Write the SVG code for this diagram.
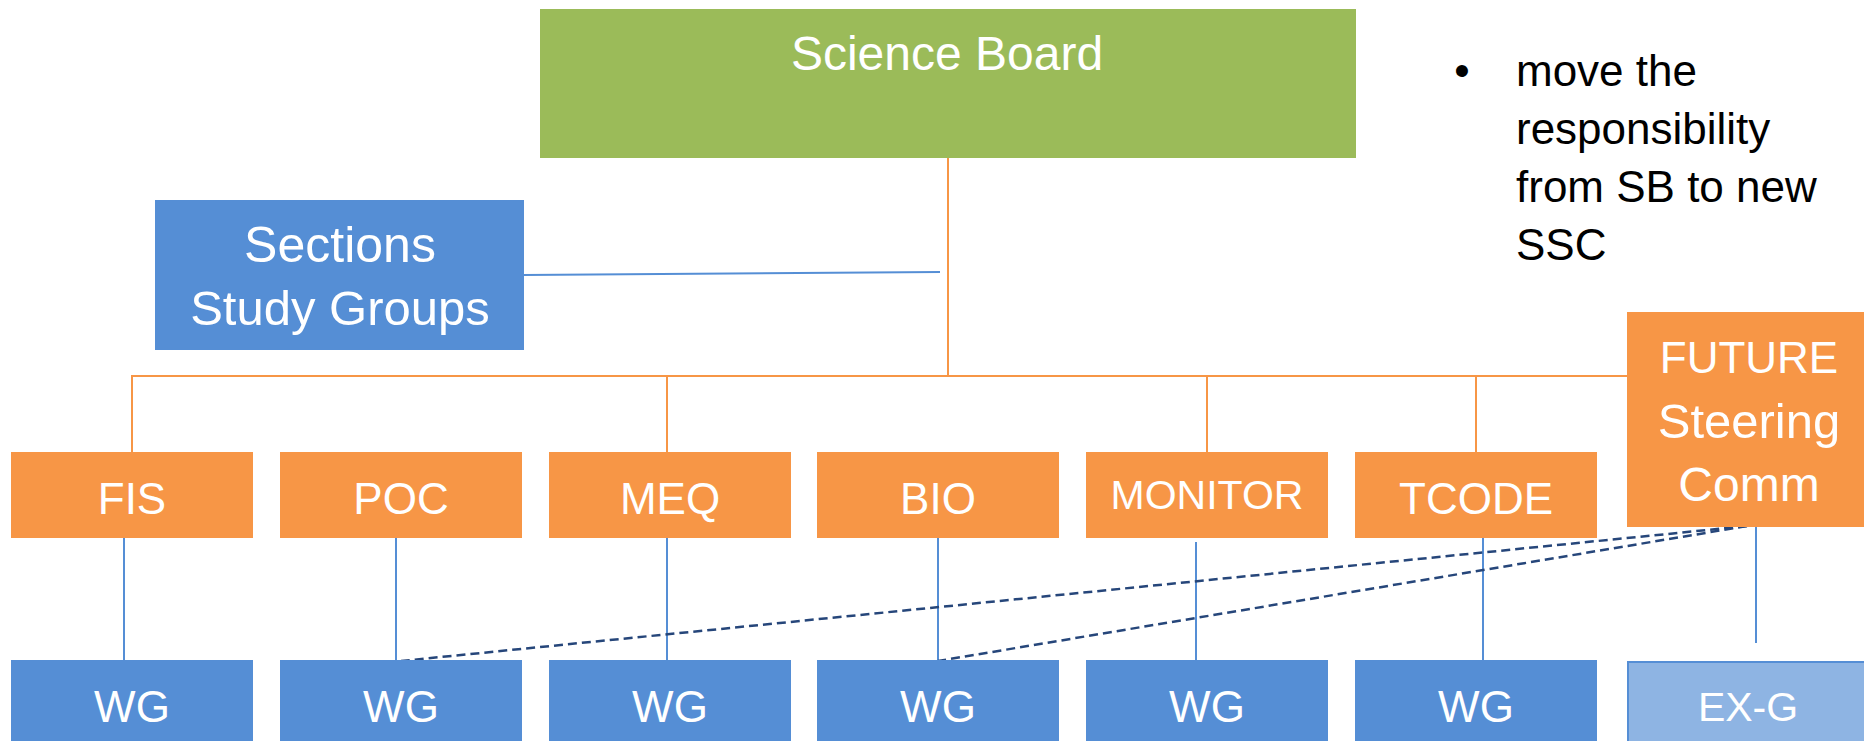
<svg xmlns="http://www.w3.org/2000/svg" width="1864" height="741" viewBox="0 0 1864 741">
<style>
.t{font-family:"Liberation Sans",Arial,sans-serif;fill:#fff;text-anchor:middle}
.cap{font-size:44px}
.org{fill:#F79646}
.blu{fill:#558ED5}
.ol{stroke:#F79646;stroke-width:2;fill:none}
.bl{stroke:#558ED5;stroke-width:2;fill:none}
.dl{stroke:#26467A;stroke-width:2.5;stroke-dasharray:9 5;fill:none}
</style>
<rect width="1864" height="741" fill="#fff"/>
<g id="connectors">
<polyline class="ol" points="948,157 948,376"/>
<polyline class="ol" points="132,452 132,376 1627,376"/>
<line class="ol" x1="667" y1="376" x2="667" y2="452"/>
<line class="ol" x1="1207" y1="376" x2="1207" y2="452"/>
<line class="ol" x1="1476" y1="376" x2="1476" y2="452"/>
<line class="bl" x1="524" y1="275" x2="940" y2="272"/>
<line class="bl" x1="124" y1="538" x2="124" y2="660"/>
<line class="bl" x1="396" y1="538" x2="396" y2="660"/>
<line class="bl" x1="667" y1="538" x2="667" y2="660"/>
<line class="bl" x1="938" y1="538" x2="938" y2="660"/>
<line class="bl" x1="1196" y1="542" x2="1196" y2="660"/>
<line class="bl" x1="1483" y1="538" x2="1483" y2="660"/>
<line class="bl" x1="1756" y1="527" x2="1756" y2="643"/>
<line class="dl" x1="1747" y1="526" x2="401" y2="661"/>
<line class="dl" x1="1747" y1="526" x2="938" y2="661"/>
</g>
<g id="science-board">
<rect x="540" y="9" width="816" height="149" fill="#9BBB59"/>
<text class="t" x="947" y="70" font-size="48">Science Board</text>
</g>
<g id="sections">
<rect x="155" y="200" width="369" height="150" class="blu"/>
<text class="t" x="340" y="262" font-size="50">Sections</text>
<text class="t" x="340" y="325" font-size="49">Study Groups</text>
</g>
<g id="note">
<text x="1462" y="86" font-family="Liberation Sans, Arial, sans-serif" font-size="44" fill="#000" text-anchor="middle">•</text>
<text font-family="Liberation Sans, Arial, sans-serif" font-size="44" fill="#000">
<tspan x="1516" y="86">move the</tspan>
<tspan x="1516" y="144">responsibility</tspan>
<tspan x="1516" y="202">from SB to new</tspan>
<tspan x="1516" y="260">SSC</tspan>
</text>
</g>
<g id="fis"><rect x="11" y="452" width="242" height="86" class="org"/><text class="t cap" x="132" y="514">FIS</text></g>
<g id="poc"><rect x="280" y="452" width="242" height="86" class="org"/><text class="t cap" x="401" y="514">POC</text></g>
<g id="meq"><rect x="549" y="452" width="242" height="86" class="org"/><text class="t cap" x="670" y="514">MEQ</text></g>
<g id="bio"><rect x="817" y="452" width="242" height="86" class="org"/><text class="t cap" x="938" y="514">BIO</text></g>
<g id="monitor"><rect x="1086" y="452" width="242" height="86" class="org"/><text class="t" x="1207" y="509" font-size="41">MONITOR</text></g>
<g id="tcode"><rect x="1355" y="452" width="242" height="86" class="org"/><text class="t cap" x="1476" y="514">TCODE</text></g>
<g id="future">
<rect x="1627" y="312" width="240" height="215" class="org"/>
<text class="t" x="1749" y="373" font-size="44">FUTURE</text>
<text class="t" x="1749" y="438" font-size="49">Steering</text>
<text class="t" x="1749" y="501" font-size="48">Comm</text>
</g>
<g id="wg1"><rect x="11" y="660" width="242" height="85" class="blu"/><text class="t cap" x="132" y="722">WG</text></g>
<g id="wg2"><rect x="280" y="660" width="242" height="85" class="blu"/><text class="t cap" x="401" y="722">WG</text></g>
<g id="wg3"><rect x="549" y="660" width="242" height="85" class="blu"/><text class="t cap" x="670" y="722">WG</text></g>
<g id="wg4"><rect x="817" y="660" width="242" height="85" class="blu"/><text class="t cap" x="938" y="722">WG</text></g>
<g id="wg5"><rect x="1086" y="660" width="242" height="85" class="blu"/><text class="t cap" x="1207" y="722">WG</text></g>
<g id="wg6"><rect x="1355" y="660" width="242" height="85" class="blu"/><text class="t cap" x="1476" y="722">WG</text></g>
<g id="exg"><rect x="1628" y="662" width="240" height="85" fill="#8EB4E3" stroke="#558ED5" stroke-width="2"/><text class="t" x="1748" y="721" font-size="41">EX-G</text></g>
</svg>
